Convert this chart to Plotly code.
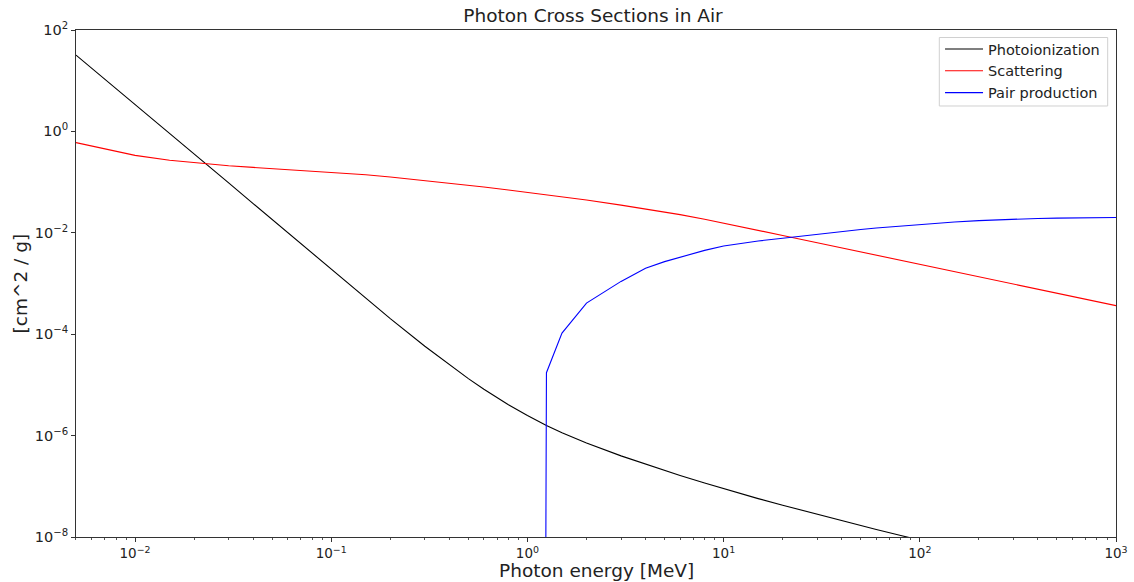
import plotly.graph_objects as go

# ---- data ----
energy_photo = [0.005, 0.006, 0.008, 0.01, 0.015, 0.02, 0.03, 0.04, 0.05, 0.06, 0.08,
                0.1, 0.15, 0.2, 0.3, 0.4, 0.5, 0.6, 0.8, 1.0, 1.25, 1.5, 2, 3, 4, 5, 6,
                8, 10, 15, 20, 30, 40, 50, 60, 80, 100, 150, 200, 300, 500, 1000]
photoionization = [32.0, 17.8, 7.0, 3.41, 0.92, 0.364, 0.0966, 0.0377, 0.0182, 0.0100,
                   3.94e-3, 1.91e-3, 5.10e-4, 2.03e-4, 5.78e-5, 2.48e-5, 1.33e-5, 8.19e-6,
                   4.05e-6, 2.48e-6, 1.58e-6, 1.14e-6, 7.16e-7, 3.98e-7, 2.72e-7, 2.05e-7,
                   1.64e-7, 1.16e-7, 8.93e-8, 5.72e-8, 4.23e-8, 2.79e-8, 2.09e-8, 1.68e-8,
                   1.41e-8, 1.07e-8, 8.69e-9, 5.95e-9, 4.57e-9, 3.16e-9, 1.95e-9, 1.02e-9]

energy_scat = [0.005, 0.006, 0.008, 0.01, 0.015, 0.02, 0.03, 0.04, 0.05, 0.06, 0.08,
               0.1, 0.15, 0.2, 0.3, 0.4, 0.5, 0.6, 0.8, 1.0, 1.5, 2, 3, 4, 5, 6, 8,
               10, 15, 20, 30, 40, 50, 60, 80, 100, 150, 200, 300, 400, 500, 600, 800, 1000]
scattering = [0.60, 0.514, 0.402, 0.336, 0.27, 0.24, 0.21, 0.195, 0.185, 0.177, 0.165,
              0.157, 0.1393, 0.1259, 0.1075, 0.0955, 0.0867, 0.0798, 0.0697, 0.0625,
              0.0514, 0.0443, 0.0352, 0.0297, 0.0257, 0.0228, 0.0185, 0.0156, 0.01127,
              0.00887, 0.00637, 0.00505, 0.00421, 0.00363, 0.00288, 0.00240, 0.00173,
              0.00137, 0.00098, 0.000776, 0.000646, 0.000556, 0.000440, 0.000366]

energy_pair = [1.022, 1.25, 1.5, 2, 3, 4, 5, 6, 8, 10, 15, 20, 30, 40, 50, 60, 80,
               100, 150, 200, 300, 400, 500, 600, 800, 1000]
pair_production = [1e-100, 1.74e-5, 1.05e-4, 4.1e-4, 1.1e-3, 2.0e-3, 2.7e-3, 3.3e-3,
                   4.5e-3, 5.5e-3, 6.9e-3, 7.8e-3, 9.4e-3, 0.0105, 0.0116, 0.0124,
                   0.0136, 0.0145, 0.0163, 0.0174, 0.0186, 0.0192, 0.0195, 0.0197,
                   0.0199, 0.0200]

x_tickvals = [1e-2, 1e-1, 1e0, 1e1, 1e2, 1e3]
x_ticktext = ["10<sup>\u22122</sup>", "10<sup>\u22121</sup>", "10<sup>0</sup>",
              "10<sup>1</sup>", "10<sup>2</sup>", "10<sup>3</sup>"]
y_tickvals = [1e-8, 1e-6, 1e-4, 1e-2, 1e0, 1e2]
y_ticktext = ["10<sup>\u22128</sup>", "10<sup>\u22126</sup>", "10<sup>\u22124</sup>",
              "10<sup>\u22122</sup>", "10<sup>0</sup>", "10<sup>2</sup>"]
x_minor = [m * 10.0 ** k for k in range(-3, 3) for m in range(2, 10)]

FONT = "DejaVu Sans"
TXT = "#222222"

fig = go.Figure()
fig.add_trace(go.Scatter(x=energy_photo, y=photoionization, mode="lines",
                         name="Photoionization", line=dict(color="#000000", width=1.1)))
fig.add_trace(go.Scatter(x=energy_scat, y=scattering, mode="lines",
                         name="Scattering", line=dict(color="#ff0000", width=1.1)))
fig.add_trace(go.Scatter(x=energy_pair, y=pair_production, mode="lines",
                         name="Pair production", line=dict(color="#0000ff", width=1.1)))

axis_common = dict(showline=True, mirror=True, linecolor="#333333", linewidth=1,
                   showgrid=False, zeroline=False, ticks="outside", ticklen=4,
                   tickcolor="#333333", automargin=False)

fig.update_xaxes(type="log", range=[-2.301, 3], tickmode="array",
                 tickvals=x_tickvals, ticktext=x_ticktext,
                 tickfont=dict(family=FONT, size=13.5, color=TXT),
                 minor=dict(tickmode="array", tickvals=x_minor, ticks="outside",
                            ticklen=2, tickcolor="#555555", showgrid=False),
                 **axis_common)
fig.update_yaxes(type="log", range=[-8, 2], tickmode="array",
                 tickvals=y_tickvals, ticktext=y_ticktext,
                 tickfont=dict(family=FONT, size=14.5, color=TXT),
                 **axis_common)

# axis titles (placed relative to the plot area)
fig.add_annotation(text="Photon energy [MeV]", xref="paper", yref="paper",
                   x=0.5, y=0, xanchor="center", yanchor="middle", yshift=-33,
                   showarrow=False, font=dict(family=FONT, size=18.5, color=TXT))
fig.add_annotation(text="[cm^2 / g]", xref="paper", yref="paper",
                   x=0, y=0.5, xanchor="center", yanchor="middle", xshift=-56,
                   textangle=-90, showarrow=False,
                   font=dict(family=FONT, size=18.5, color=TXT))

# legend frame (matplotlib-style light box)
fig.add_shape(type="rect", xref="paper", yref="paper",
              x0=0.8301, x1=0.9920, y0=0.8501, y1=0.9852,
              line=dict(color="#d0d0d0", width=1), fillcolor="rgba(255,255,255,0.8)",
              layer="above")

fig.update_layout(
    width=1134, height=582,
    margin=dict(l=76, r=18, t=30, b=45),
    paper_bgcolor="white", plot_bgcolor="white",
    title=dict(text="Photon Cross Sections in Air", x=0.5229, xanchor="center",
               y=0.974, yanchor="middle",
               font=dict(family=FONT, size=18.5, color=TXT)),
    legend=dict(x=0.8308, xanchor="left", y=0.994, yanchor="top",
                borderwidth=0, bgcolor="rgba(0,0,0,0)",
                font=dict(family=FONT, size=14.5, color=TXT),
                tracegroupgap=0, itemwidth=38),
    showlegend=True,
)

fig.write_html("out.html", config={"displayModeBar": False},
               post_script="document.body.style.margin='0';")
